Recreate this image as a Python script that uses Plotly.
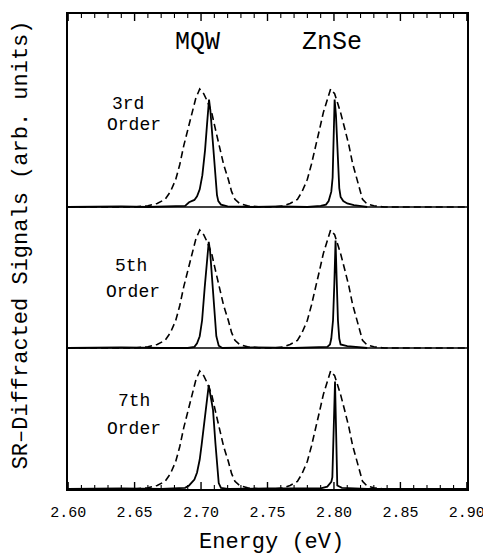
import plotly.graph_objects as go

# Reference (broad, dashed) spectrum, normalised to its peak
DASH_E = [2.600, 2.650, 2.660, 2.667, 2.673, 2.677, 2.681, 2.684, 2.687, 2.690,
          2.693, 2.696, 2.699, 2.702, 2.705, 2.708, 2.711, 2.7135, 2.717, 2.7205,
          2.723, 2.7255, 2.729, 2.735, 2.745,
          2.755, 2.762, 2.767, 2.7725, 2.776, 2.780, 2.783, 2.786, 2.789, 2.792,
          2.795, 2.7975, 2.8005, 2.803, 2.805, 2.808, 2.8113, 2.814, 2.8171, 2.8195,
          2.8215, 2.825, 2.830, 2.838, 2.900]
DASH_I = [0.00, 0.00, 0.01, 0.03, 0.065, 0.13, 0.235, 0.36, 0.52, 0.66,
          0.80, 0.92, 1.00, 0.96, 0.89, 0.80, 0.65, 0.52, 0.36, 0.235,
          0.13, 0.065, 0.03, 0.01, 0.00,
          0.00, 0.01, 0.03, 0.065, 0.13, 0.235, 0.36, 0.52, 0.65, 0.80,
          0.92, 1.00, 0.96, 0.88, 0.80, 0.67, 0.52, 0.37, 0.235, 0.13,
          0.065, 0.025, 0.01, 0.00, 0.00]

# Diffracted signals (solid) for each order
SOLID3_E = [2.600, 2.640, 2.660, 2.680, 2.688, 2.691, 2.693, 2.695, 2.697, 2.699,
            2.701, 2.703, 2.7045, 2.706, 2.707, 2.708, 2.709, 2.710, 2.711, 2.712,
            2.713, 2.715, 2.720, 2.740, 2.760, 2.780, 2.790, 2.794, 2.796, 2.798,
            2.799, 2.800, 2.8005, 2.8015, 2.802, 2.803, 2.804, 2.805, 2.807, 2.810,
            2.815, 2.822, 2.825]
SOLID3_I = [0.00, 0.005, 0.00, 0.005, 0.01, 0.04, 0.05, 0.06, 0.09, 0.15,
            0.27, 0.48, 0.70, 0.91, 0.82, 0.66, 0.50, 0.34, 0.20, 0.10,
            0.05, 0.02, 0.005, 0.00, 0.005, 0.00, 0.01, 0.02, 0.05, 0.13,
            0.25, 0.60, 0.91, 0.78, 0.65, 0.35, 0.16, 0.085, 0.05, 0.03,
            0.015, 0.005, 0.00]

SOLID5_E = [2.600, 2.640, 2.670, 2.690, 2.695, 2.697, 2.699, 2.7008, 2.7028, 2.7045,
            2.7058, 2.7068, 2.708, 2.709, 2.7103, 2.7115, 2.7133, 2.716, 2.740, 2.770,
            2.795, 2.797, 2.798, 2.7993, 2.8003, 2.8012, 2.802, 2.803, 2.804, 2.805,
            2.810, 2.818, 2.825]
SOLID5_I = [0.00, 0.005, 0.00, 0.00, 0.01, 0.04, 0.10, 0.235, 0.52, 0.75,
            0.90, 0.82, 0.62, 0.52, 0.235, 0.10, 0.02, 0.00, 0.005, 0.00,
            0.01, 0.03, 0.08, 0.235, 0.55, 0.91, 0.60, 0.235, 0.08, 0.03,
            0.015, 0.008, 0.00]

SOLID7_E = [2.600, 2.640, 2.670, 2.688, 2.691, 2.693, 2.695, 2.697, 2.699, 2.7005,
            2.702, 2.704, 2.7058, 2.707, 2.709, 2.7108, 2.712, 2.7133, 2.715, 2.720,
            2.750, 2.790, 2.795, 2.797, 2.798, 2.7988, 2.7995, 2.8002, 2.8008, 2.8014,
            2.802, 2.8025, 2.806, 2.815, 2.825, 2.900]
SOLID7_I = [0.00, 0.005, 0.00, 0.01, 0.03, 0.06, 0.08, 0.14, 0.25, 0.38,
            0.53, 0.74, 0.88, 0.80, 0.67, 0.39, 0.18, 0.05, 0.01, 0.00,
            0.005, 0.005, 0.02, 0.05, 0.06, 0.10, 0.40, 0.80, 0.91, 0.60,
            0.20, 0.03, 0.01, 0.005, 0.00, 0.00]

ORDERS = ["3rd", "5th", "7th"]
PEAK_LABELS = ["MQW", "ZnSe"]
PEAK_LABEL_E = [2.6977, 2.7985]

# axis ticks: minor every 0.01 eV, labelled major every 0.05 eV
E_MIN, E_MAX = 2.60, 2.90
TICK_POS = [round(E_MIN + 0.01 * i, 2) for i in range(31)]

FONT = "Liberation Mono, Courier New, monospace"

# vertical stacking: 118 px per intensity unit; lower panels 141 px, top one 193 px
PX = 1 / 118
PANEL_H = 141 * PX
Y_TOP = 475 * PX
offsets = {"7th": 0.0, "5th": PANEL_H, "3rd": 2 * PANEL_H}

fig = go.Figure()

for order, se, si in [("3rd", SOLID3_E, SOLID3_I), ("5th", SOLID5_E, SOLID5_I),
                      ("7th", SOLID7_E, SOLID7_I)]:
    off = offsets[order]
    fig.add_trace(go.Scatter(x=DASH_E, y=[v + off for v in DASH_I], mode="lines",
                             line=dict(color="black", width=1.6, dash="7px,4px"),
                             showlegend=False, hoverinfo="skip", cliponaxis=False))
    fig.add_trace(go.Scatter(x=se, y=[v + off for v in si], mode="lines",
                             line=dict(color="black", width=1.8),
                             showlegend=False, hoverinfo="skip", cliponaxis=False))

# inward tick marks along the bottom and top edges
for major in (True, False):
    tx, ty = [], []
    for i, e in enumerate(TICK_POS):
        if (i % 5 == 0) != major:
            continue
        length = (7 if major else 4) * PX
        tx += [e, e, None, e, e, None]
        ty += [0, length, None, Y_TOP, Y_TOP - length, None]
    fig.add_trace(go.Scatter(x=tx, y=ty, mode="lines",
                             line=dict(color="black", width=1.4 if major else 1.1),
                             showlegend=False, hoverinfo="skip", cliponaxis=False))

fig.update_layout(
    width=483, height=554,
    margin=dict(l=68, r=16, t=14, b=65),
    paper_bgcolor="white", plot_bgcolor="white",
    font=dict(family=FONT, color="black"),
    xaxis=dict(range=[E_MIN - 0.0001, E_MAX + 0.0001], tickmode="linear",
               tick0=E_MIN, dtick=0.05, tickformat=".2f", ticks="",
               showgrid=False, zeroline=False, automargin=False,
               showline=True, linecolor="black", linewidth=1.8, mirror=True,
               ticklabeloverflow="allow", ticklabelstandoff=8,
               tickfont=dict(size=15, family=FONT)),
    yaxis=dict(range=[0, Y_TOP], showticklabels=False, ticks="", showgrid=False,
               zeroline=False, showline=True, linecolor="black", linewidth=1.8,
               mirror=True, automargin=False),
)

# panel dividers at the upper two baselines
for order in ("5th", "3rd"):
    fig.add_hline(y=offsets[order], line=dict(color="black", width=1.6), layer="above")


def label(text, x, y, size, xref="x", yref="paper", angle=0):
    fig.add_annotation(text=text, x=x, xref=xref, y=y, yref=yref, textangle=angle,
                       xanchor="center", yanchor="middle", showarrow=False,
                       font=dict(size=size, family=FONT))


for lab, e in zip(PEAK_LABELS, PEAK_LABEL_E):
    label(lab, e, 0.941, 25)

order_pos = [(2.6447, 0.810, 2.6496, 0.766), (2.6474, 0.469, 2.6489, 0.415),
             (2.6496, 0.185, 2.6496, 0.126)]
for lab, (ex, ey, ox, oy) in zip(ORDERS, order_pos):
    label(lab, ex, ey, 18)
    label("Order", ox, oy, 18)

label("Energy (eV)", 0.509, -0.112, 22, xref="paper")
label("SR\u2013Diffracted Signals (arb. units)", -0.1165, 0.514, 22, xref="paper", angle=-90)

fig.write_html("out.html")
